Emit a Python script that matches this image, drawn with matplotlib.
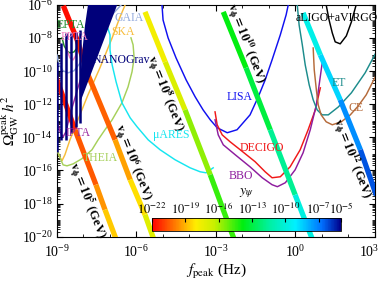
import numpy as np
import matplotlib
matplotlib.use("Agg")
import matplotlib.pyplot as plt
from matplotlib.collections import LineCollection
from matplotlib.colors import LinearSegmentedColormap, LogNorm
import matplotlib.ticker as mticker
import matplotlib.transforms as mtransforms

plt.rcParams['font.family'] = ['Liberation Serif', 'DejaVu Serif']
plt.rcParams['mathtext.fontset'] = 'stix'

# ---------------- data (log10 values) ----------------
# v_phi lines: log10 f, log10 Omega, log10 y_psi
vs5_logf = [-9.10, -8.31, -7.52, -7.18, -6.75]
vs5_logO = [-10.05, -13.54, -16.86, -18.37, -20.2]
vs5_logy = [-22.0, -21.0, -20.0, -19.0, -18.3]

vs6_logf = [-8.75, -8.23, -7.82, -6.80, -6.23, -5.67, -5.33]
vs6_logO = [-6.05, -8.11, -10.22, -14.15, -16.56, -18.67, -20.2]
vs6_logy = [-22.0, -21.6, -21.0, -19.8, -18.8, -17.8, -16.5]

vs8_logf = [-5.67, -4.91, -4.16, -3.21, -2.30]
vs8_logO = [-6.42, -9.44, -12.34, -16.26, -20.2]
vs8_logy = [-18.0, -17.5, -16.3, -15.0, -14.0]

vs10_logf = [-2.72, -1.86, -0.95, -0.01, 0.65]
vs10_logO = [-6.42, -9.80, -13.54, -17.47, -20.2]
vs10_logy = [-14.0, -13.7, -12.5, -10.8, -9.0]

vs12_logf = [0.29, 0.94, 1.69, 2.45, 3.05]
vs12_logO = [-6.48, -9.02, -11.73, -14.75, -17.5]
vs12_logy = [-10.0, -9.3, -8.0, -6.6, -6.0]

vs_exponents = ['5', '6', '8', '10', '12']
vs_label_logf = [-7.82, -6.12, -4.88, -1.86, 2.14]
vs_label_logO = [-17.77, -15.47, -11.31, -8.29, -15.23]

# sensitivity curves (log10 f, log10 Omega h^2)
epta_logf = [-8.80, -8.72, -8.61, -8.50, -8.35, -8.23, -8.16]
epta_logO = [-7.99, -8.47, -8.78, -8.90, -8.84, -8.60, -8.23]

ppta_logf = [-8.65, -8.61, -8.50, -8.38, -8.27, -8.20]
ppta_logO = [-8.11, -8.72, -9.20, -9.32, -9.02, -8.41]

gaia_logf = [-8.99, -8.91, -8.76, -8.57, -8.35, -8.20, -7.97, -7.67, -7.25, -6.88, -6.57]
gaia_logO = [-9.02, -9.62, -9.98, -10.10, -9.98, -9.68, -9.20, -8.47, -7.39, -6.54, -6.0]

ipta_logf = [-8.99, -8.875, -8.76, -8.65, -8.50, -8.20, -7.82, -7.37, -7.18]
ipta_logO = [-12.94, -13.66, -13.97, -13.66, -12.64, -11.01, -9.02, -6.78, -6.0]

ska_logf = [-8.99, -8.91, -8.80, -8.69, -8.50, -8.23, -7.82, -7.37, -6.91, -6.61, -6.42]
ska_logO = [-14.63, -15.11, -15.41, -15.05, -14.15, -13.06, -11.43, -9.80, -7.99, -6.72, -6.0]

theia_logf = [-8.99, -8.875, -8.76, -8.61, -8.38, -8.05, -7.67, -7.44, -7.18, -6.91,
              -6.54, -6.31, -6.16, -6.08, -6.12, -6.20]
theia_logO = [-14.75, -15.23, -15.66, -15.72, -15.60, -15.29, -14.75, -14.15, -13.54, -12.94,
              -11.91, -10.95, -10.04, -9.20, -8.41, -7.99]

mu_logf = [-7.10, -6.99, -6.99, -6.91, -6.76, -6.54, -6.23, -5.97, -5.55, -5.10, -4.54,
           -3.97, -3.59, -3.37, -3.10]
mu_logO = [-7.27, -7.81, -8.72, -9.62, -10.65, -11.91, -12.82, -13.36, -14.15, -14.75,
           -15.35, -15.84, -16.08, -16.14, -15.84]

lisa_logf = [-5.03, -4.99, -4.80, -4.50, -4.12, -3.78, -3.48, -3.21, -2.95, -2.57, -2.20,
             -1.71, -1.40, -1.14, -0.88, -0.57, -0.35, -0.27]
lisa_logO = [-6.0, -6.91, -7.99, -9.20, -10.53, -11.55, -12.34, -12.94, -13.42, -13.72,
             -13.54, -12.64, -11.55, -10.53, -9.32, -7.81, -6.60, -6.0]

decigo_logf = [-3.03, -2.95, -2.76, -2.46, -2.08, -1.52, -1.14, -0.88, -0.57, -0.20, 0.18,
               0.48, 0.75, 0.94]
decigo_logO = [-12.46, -13.24, -13.85, -14.27, -14.75, -15.47, -16.08, -16.44, -16.38,
               -15.78, -14.75, -13.54, -12.34, -11.01]

bbo_logf = [-3.03, -2.91, -2.72, -2.27, -1.71, -1.25, -0.88, -0.68, -0.38, -0.01, 0.29,
            0.56, 0.79, 1.01]
bbo_logO = [-12.94, -13.85, -14.45, -15.05, -15.78, -16.44, -16.86, -16.98, -16.74,
            -15.96, -14.93, -13.54, -12.04, -9.50]

et_logf = [0.07, 0.14, 0.26, 0.37, 0.52, 0.67, 0.82, 1.01, 1.24, 1.62, 2.11, 2.63, 3.05]
et_logO = [-6.0, -7.21, -8.41, -9.62, -10.83, -11.73, -12.34, -12.64, -12.64, -12.16,
           -11.31, -10.10, -8.84]

ce_logf = [0.67, 0.71, 0.79, 0.86, 0.97, 1.16, 1.39, 1.73, 2.07, 2.37, 2.67, 3.05]
ce_logO = [-8.60, -9.92, -11.13, -12.04, -12.64, -13.06, -13.24, -13.06, -12.64, -12.10,
           -11.43, -10.22]

ligo_logf = [1.16, 1.27, 1.39, 1.50, 1.69, 1.92, 2.11, 2.29]
ligo_logO = [-6.0, -6.91, -7.69, -8.23, -8.35, -7.87, -7.03, -6.0]

# NANOGrav region (filled) and violin bars
nano_fill_logf = [-7.82, -6.72, -8.12, -8.14, -8.03, -7.93]
nano_fill_logO = [-6.0, -6.0, -11.91, -11.1, -8.73, -7.2]
nano_bar_logf = [-8.99, -8.84, -8.65, -8.46, -8.27, -8.12]
nano_bar_top = [-9.44, -8.29, -7.69, -7.69, -7.63, -7.51]
nano_bar_bot = [-14.9, -14.15, -14.15, -13.72, -13.36, -13.12]

curve_names = ['EPTA', 'PPTA', 'GAIA', 'IPTA', 'SKA', 'THEIA', 'μARES', 'LISA', 'DECIGO',
               'BBO', 'ET', 'CE', 'aLIGO+aVIRGO', 'NANOGrav']
label_logf = [-8.46, -8.31, -6.27, -8.20, -6.50, -7.37, -4.69, -2.12, -1.25, -2.05, 1.62,
              2.29, 1.54, -6.55]
label_logO = [-7.21, -7.93, -6.78, -13.72, -7.63, -15.23, -13.85, -11.55, -14.63, -16.32,
              -10.71, -12.22, -6.78, -9.32]

cbar_ticks_log = [-22, -19, -16, -13, -10, -7, -5]

# ---------------- styles ----------------
col = {'EPTA': '#1f8a2a', 'PPTA': '#f27fc0', 'GAIA': '#93aadc', 'IPTA': '#9b2aa0',
       'SKA': '#f7bc3a', 'THEIA': '#a6d05a', 'μARES': '#16e6f0', 'LISA': '#1010f0',
       'DECIGO': '#f01818', 'BBO': '#8e1c9e', 'ET': '#1c8c8c', 'CE': '#b56a3a',
       'aLIGO+aVIRGO': '#000000', 'NANOGrav': '#00007a'}

cmap = LinearSegmentedColormap.from_list(
    'yp', [(0.0, '#ff0000'), (0.12, '#ff7a00'), (0.23, '#ffee00'), (0.33, '#c8f000'),
           (0.48, '#00ee10'), (0.62, '#00f0a0'), (0.76, '#00f0ff'), (0.9, '#0070ff'),
           (1.0, '#00008a')])
norm = LogNorm(vmin=1e-22, vmax=1e-5)

fig = plt.figure(figsize=(3.78, 2.84), dpi=100)
ax = fig.add_axes([0.150, 0.1666, 0.842, 0.816])
ax.set_xscale('log')
ax.set_yscale('log')
ax.set_xlim(1e-9, 1e3)
ax.set_ylim(1e-20, 1e-6)

def P(a):
    return 10.0 ** np.asarray(a, dtype=float)

curves = [('EPTA', epta_logf, epta_logO), ('PPTA', ppta_logf, ppta_logO),
          ('GAIA', gaia_logf, gaia_logO), ('IPTA', ipta_logf, ipta_logO),
          ('SKA', ska_logf, ska_logO), ('THEIA', theia_logf, theia_logO),
          ('μARES', mu_logf, mu_logO), ('LISA', lisa_logf, lisa_logO),
          ('DECIGO', decigo_logf, decigo_logO), ('BBO', bbo_logf, bbo_logO),
          ('ET', et_logf, et_logO), ('CE', ce_logf, ce_logO),
          ('aLIGO+aVIRGO', ligo_logf, ligo_logO)]
for name, lf, lo in curves:
    ax.plot(P(lf), P(lo), color=col[name], lw=1.05, zorder=3)

# colored v_phi lines
for lf, lo, ly in [(vs5_logf, vs5_logO, vs5_logy), (vs6_logf, vs6_logO, vs6_logy),
                   (vs8_logf, vs8_logO, vs8_logy), (vs10_logf, vs10_logO, vs10_logy),
                   (vs12_logf, vs12_logO, vs12_logy)]:
    f = P(lf); o = P(lo); y = np.asarray(ly)
    segs = [[(f[i], o[i]), (f[i + 1], o[i + 1])] for i in range(len(f) - 1)]
    cols = [cmap(norm(10 ** ((y[i] + y[i + 1]) / 2))) for i in range(len(f) - 1)]
    lc = LineCollection(segs, colors=cols, linewidths=3.8, zorder=4, capstyle='butt')
    ax.add_collection(lc)

# NANOGrav (drawn over the lines)
ax.fill(P(nano_fill_logf), P(nano_fill_logO), color=col['NANOGrav'], lw=0, zorder=5)
ax.vlines(P(nano_bar_logf), P(nano_bar_bot), P(nano_bar_top), color=col['NANOGrav'],
          lw=1.8, zorder=5)

for e, lf, lo in zip(vs_exponents, vs_label_logf, vs_label_logO):
    ax.text(10 ** lf, 10 ** lo, r'$\mathbf{v_\phi}$' + r'$\mathbf{=10^{' + e + r'}}$ (GeV)',
            rotation=-68.5, rotation_mode='anchor', ha='center', va='center',
            fontsize=9, fontweight='bold', zorder=6)

for name, lf, lo in zip(curve_names, label_logf, label_logO):
    ax.text(10 ** lf, 10 ** lo, name, color=col[name], fontsize=8.5, ha='center',
            va='center', zorder=6)

ax.text(10 ** -1.86, 10 ** -17.35, r'$y_\psi$', fontsize=10, ha='center', va='center')

# ticks
ax.xaxis.set_major_locator(mticker.FixedLocator(P([-9, -6, -3, 0, 3])))
ax.xaxis.set_major_formatter(mticker.LogFormatterSciNotation())
ax.xaxis.set_minor_locator(mticker.FixedLocator(P(np.arange(-9, 4))))
ax.xaxis.set_minor_formatter(mticker.NullFormatter())
ax.yaxis.set_major_locator(mticker.FixedLocator(P(np.arange(-20, -5, 2))))
ax.yaxis.set_major_formatter(mticker.LogFormatterSciNotation())
ax.yaxis.set_minor_locator(mticker.LogLocator(base=10, subs=np.arange(1, 10), numticks=100))
ax.yaxis.set_minor_formatter(mticker.NullFormatter())
ax.tick_params(which='both', direction='in', top=True, right=True, labelsize=10)
ax.tick_params(which='major', length=4, width=0.8)
ax.tick_params(which='minor', length=2.2, width=0.6)
ax.tick_params(axis='x', pad=5)
ax.tick_params(axis='y', pad=3)

ax.set_xlabel(r'$f_{\rm peak}$ (Hz)', fontsize=11, labelpad=2)
ax.set_ylabel(r'$\Omega_{\rm GW}^{\rm peak}\,h^2$', fontsize=11, labelpad=0)

fig.canvas.draw()
last = ax.get_xticklabels()[-1]
last.set_transform(last.get_transform() + mtransforms.ScaledTranslation(-6 / 100, 0, fig.dpi_scale_trans))

# colorbar
cax = fig.add_axes([0.402, 0.1866, 0.500, 0.0458])
sm = plt.cm.ScalarMappable(norm=norm, cmap=cmap)
cb = fig.colorbar(sm, cax=cax, orientation='horizontal')
cb.set_ticks(P(cbar_ticks_log))
cb.set_ticklabels([r'$10^{%d}$' % v for v in cbar_ticks_log])
cax.xaxis.set_ticks_position('top')
cax.xaxis.set_label_position('top')
cax.tick_params(which='both', direction='in', labelsize=9, pad=1)
cax.tick_params(which='major', length=3)
cax.tick_params(which='minor', length=1.5)
cb.outline.set_linewidth(0.6)

fig.savefig('out.png', dpi=100)
